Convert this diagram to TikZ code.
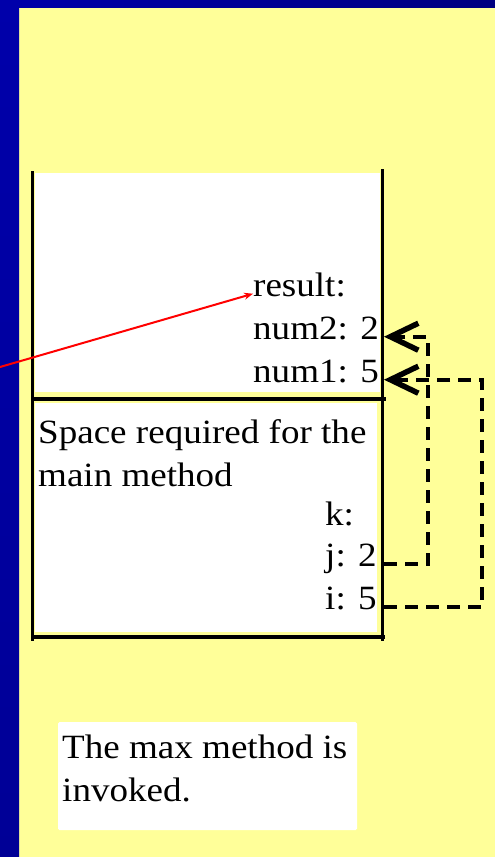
\documentclass[tikz,border=0pt]{standalone}
\usepackage{fontspec}
\setmainfont{Liberation Serif}[FakeStretch=1.09]
\usetikzlibrary{
    arrows.meta,
    positioning,
    calc
}
\tikzset{
  cell/.style  = {anchor=base west, inner sep=0pt,
                  font=\fontsize{34}{43}\selectfont},
  frame/.style = {line width=3.5pt, line cap=rect},
  pass/.style  = {-{Straight Barb[length=28pt,width=27pt,line width=5.5pt]},
                  line width=4pt, dash pattern=on 13pt off 8pt},
  ret/.style   = {-{Stealth[length=9pt,width=7pt]}, red, line width=2pt}
}
\definecolor{SlideYellow}{RGB}{255,255,153}
\definecolor{SlideBlue}{RGB}{0,0,170}
\definecolor{SlideNavy}{RGB}{0,0,128}
\definecolor{SlideDeep}{RGB}{0,0,150}

\begin{document}
\begin{tikzpicture}[x=1pt,y=-1pt]
\useasboundingbox (0,0) rectangle (495,857);
% slide background
\fill[SlideYellow] (0,0) rectangle (495,857);
\shade[left color=SlideBlue,right color=SlideNavy] (0,0) rectangle (495,7);
\shade[top color=SlideBlue,bottom color=SlideDeep] (0,0) rectangle (19,857);
% stack frames
\fill[white] (35,173) rectangle (380,392);
\fill[white] (35,403) rectangle (377,632);
\draw[frame] (32.5,173) -- (32.5,639);
\draw[frame] (382.5,171) -- (382.5,639);
\draw[frame] (33,399) -- (384,399);
\draw[frame] (33,637) -- (383,637);
\coordinate (stackR) at (384,0);
\coordinate (caller) at (0,367);
% max frame
\node[cell] (res)  at (253,296) {result:};
\node[cell] (num2) at (253,339) {num2: 2};
\node[cell] (num1) at (253,382) {num1: 5};
% main frame
\node[cell, anchor=north west, align=left] (main) at (38,419) {Space required for the\\main method};
\node[cell] (k) at (325,525) {k:};
\node[cell] (j) at (325,566) {j: 2};
\node[cell] (i) at (325,609) {i: 5};
% note
\fill[white, rounded corners=1.5pt] (58,722) rectangle (357,830);
\node[cell, anchor=north west, align=left] (note) at (62,735) {The max method is\\invoked.};
% arguments passed
\draw[pass] (j.mid -| stackR) -- ++(44,0) |- (num2.mid -| stackR);
\draw[pass] (i.mid -| stackR) -- ++(98,0) |- (num1.mid -| stackR);
\draw[ret] (caller) -- (res.mid west);
\end{tikzpicture}
\end{document}
